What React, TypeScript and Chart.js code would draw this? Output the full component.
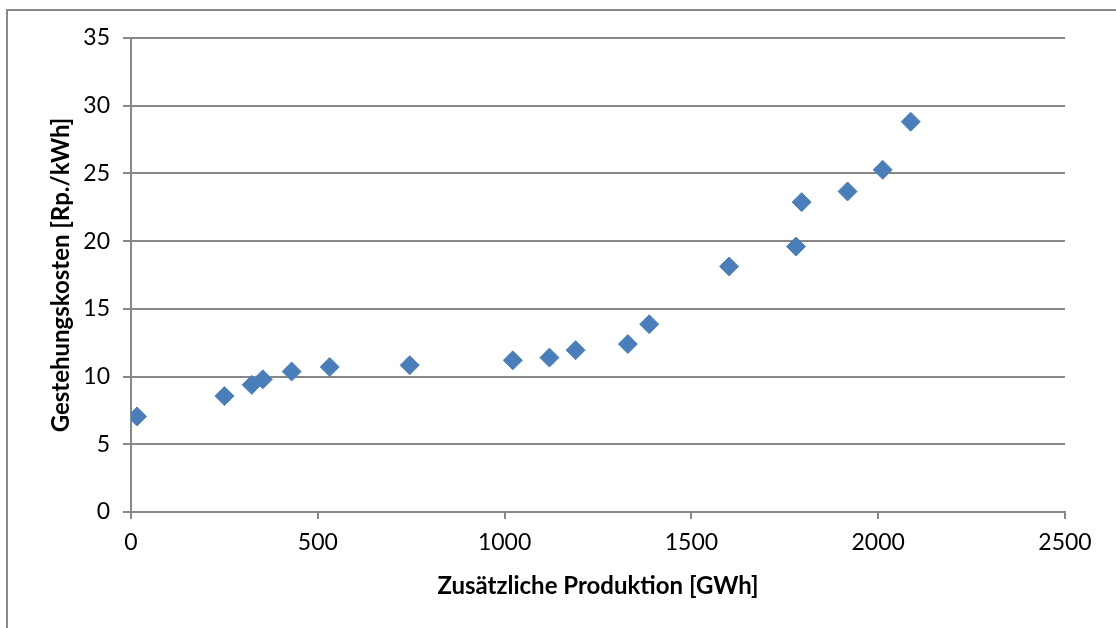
import { useEffect, useRef } from "react";
import { Chart, registerables } from "chart.js";

Chart.register(...registerables);

const xValues = [16, 250, 323, 353, 430, 532, 746, 1022, 1120, 1190, 1330, 1387, 1601, 1780, 1795, 1918, 2012, 2087];
const yValues = [7.05, 8.56, 9.39, 9.8, 10.37, 10.71, 10.84, 11.2, 11.4, 11.95, 12.4, 13.87, 18.13, 19.6, 22.88, 23.67, 25.27, 28.82];
const xTitle = "Zusätzliche Produktion [GWh]";
const yTitle = "Gestehungskosten [Rp./kWh]";

const GRID = "#888888";
const FONT = "Lato";

export default function App() {
  const ref = useRef<HTMLCanvasElement | null>(null);

  useEffect(() => {
    if (!ref.current) return;
    const points = xValues.map((x, i) => ({ x, y: yValues[i] }));
    const chart = new Chart(ref.current, {
      type: "scatter",
      data: {
        datasets: [
          {
            data: points,
            pointStyle: "rectRot",
            pointRadius: 9.5,
            pointBackgroundColor: "#4A7EBB",
            pointBorderColor: "#4F81BD",
            pointBorderWidth: 1,
          },
        ],
      },
      options: {
        animation: false,
        responsive: false,
        devicePixelRatio: 1,
        layout: { padding: { top: 38, right: 51, left: 0, bottom: 0 } },
        plugins: { legend: { display: false }, tooltip: { enabled: false } },
        scales: {
          x: {
            type: "linear",
            min: 0,
            max: 2500,
            afterFit: (s: any) => {
              s.height = 116;
            },
            ticks: {
              stepSize: 500,
              color: "#000",
              font: { family: FONT, size: 23 },
              padding: 10,
              callback: (v: any) => String(v),
            },
            grid: {
              drawOnChartArea: false,
              drawTicks: true,
              tickLength: 7,
              color: GRID,
              lineWidth: 2,
            },
            border: { color: GRID, width: 2 },
            title: {
              display: true,
              text: xTitle,
              color: "#000",
              font: { family: FONT, size: 24, weight: "bold" },
              padding: { top: 0, bottom: 27 },
            },
          },
          y: {
            min: 0,
            max: 35,
            afterFit: (s: any) => {
              s.width = 131;
            },
            ticks: {
              stepSize: 5,
              color: "#000",
              font: { family: FONT, size: 23 },
              padding: 13,
              callback: (v: any) => String(v),
            },
            grid: {
              color: GRID,
              lineWidth: 2,
              tickLength: 8,
            },
            border: { color: GRID, width: 2 },
            title: {
              display: true,
              text: yTitle,
              color: "#000",
              font: { family: FONT, size: 24, weight: "bold" },
              padding: { top: 47, bottom: 0 },
            },
          },
        },
      },
    });
    return () => chart.destroy();
  }, []);

  return (
    <div
      style={{
        position: "fixed",
        left: 0,
        top: 0,
        width: 1116,
        height: 628,
        overflow: "hidden",
        background: "#fff",
      }}
    >
      <div
        style={{
          position: "absolute",
          left: 6,
          top: 9,
          width: 1200,
          height: 700,
          border: "2px solid #888888",
        }}
      />
      <canvas
        ref={ref}
        width={1116}
        height={628}
        style={{ position: "absolute", left: 0, top: 0, width: 1116, height: 628 }}
      />
    </div>
  );
}
